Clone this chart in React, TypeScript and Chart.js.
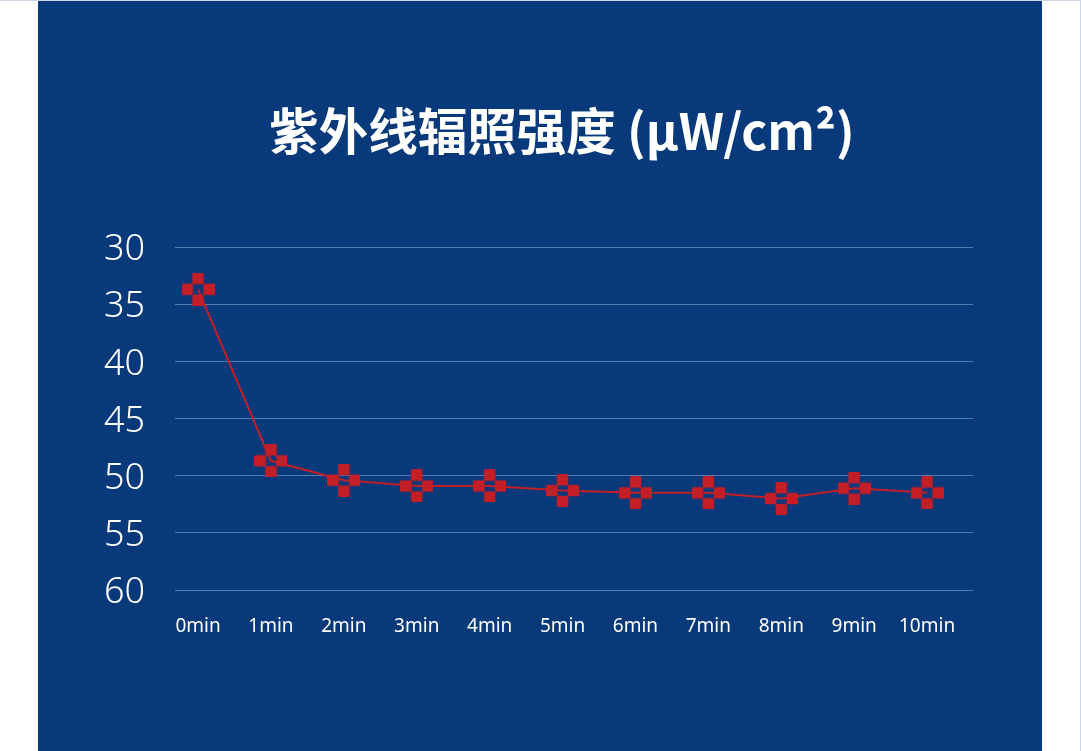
import React, { useEffect, useRef } from "react";
import { Chart, registerables } from "chart.js";

Chart.register(...registerables);

const TITLE = "紫外线辐照强度 (μW/cm²)";
const categories = ["0min", "1min", "2min", "3min", "4min", "5min", "6min", "7min", "8min", "9min", "10min"];
const intensity = [33.7, 48.7, 50.4, 50.9, 50.9, 51.3, 51.5, 51.5, 52.0, 51.1, 51.5];
const yTicks = [30, 35, 40, 45, 50, 55, 60];

const RED = "#C41E27";
const PANEL = "#08397A";

function makeMarker(): HTMLCanvasElement {
  const c = document.createElement("canvas");
  const size = 33;
  c.width = size;
  c.height = size;
  const ctx = c.getContext("2d")!;
  const cell = size / 3;
  ctx.fillStyle = RED;
  const cells = [
    [1, 0],
    [0, 1],
    [2, 1],
    [1, 2],
  ];
  for (const [cx, cy] of cells) {
    const x = cx * cell - 0.3;
    const y = cy * cell - 0.3;
    ctx.beginPath();
    (ctx as any).roundRect(Math.max(0, x), Math.max(0, y), cell + 0.6, cell + 0.6, 1.6);
    ctx.fill();
  }
  return c;
}

export default function App() {
  const ref = useRef<HTMLCanvasElement | null>(null);

  useEffect(() => {
    if (!ref.current) return;
    const marker = makeMarker();
    const chart = new Chart(ref.current, {
      type: "line",
      data: {
        datasets: [
          {
            data: intensity.map((v, i) => ({ x: i, y: v })),
            borderColor: RED,
            backgroundColor: RED,
            borderWidth: 2,
            tension: 0,
            pointStyle: marker as any,
            pointRadius: 16,
          },
        ],
      },
      options: {
        responsive: false,
        animation: false,
        layout: { padding: { left: 0, right: 69, top: 246, bottom: 0 } },
        plugins: {
          legend: { display: false },
          tooltip: { enabled: false },
          title: { display: false },
        },
        scales: {
          x: {
            type: "linear",
            min: -0.316,
            max: 10.63,
            grid: { display: false, drawTicks: false },
            border: { display: false },
            afterBuildTicks: (scale: any) => {
              scale.ticks = categories.map((_, i) => ({ value: i }));
            },
            afterFit: (scale: any) => {
              scale.height = 161;
            },
            ticks: {
              color: "#ffffff",
              padding: 25,
              autoSkip: false,
              maxRotation: 0,
              font: { family: "'Noto Sans', sans-serif", size: 19 },
              callback: (v: any) => categories[Math.round(Number(v))] ?? "",
            },
          },
          y: {
            reverse: true,
            min: 30,
            max: 60,
            afterBuildTicks: (scale: any) => {
              scale.ticks = yTicks.map((v) => ({ value: v }));
            },
            afterFit: (scale: any) => {
              scale.width = 137;
            },
            grid: { color: "rgba(150,180,220,0.55)", lineWidth: 1, drawTicks: false },
            border: { display: false },
            ticks: {
              color: "#ffffff",
              padding: 30,
              labelOffset: 3,
              autoSkip: false,
              font: { family: "'Noto Sans', sans-serif", size: 36, weight: "300" },
              callback: (v: any) => String(v),
            },
          },
        },
      },
    });
    return () => chart.destroy();
  }, []);

  return (
    <div
      style={{
        position: "fixed",
        left: 0,
        top: 0,
        width: 1081,
        height: 751,
        background: "#ffffff",
        borderTop: "1px solid #cdd8e6",
        borderRight: "1px solid #cdd8e6",
        boxSizing: "border-box",
      }}
    >
      <div style={{ position: "absolute", left: 38, top: 0, width: 1004, height: 750, background: PANEL }}>
        <canvas ref={ref} width={1004} height={750} style={{ display: "block", width: 1004, height: 750 }} />
        <div
          style={{
            position: "absolute",
            left: 24,
            top: 98,
            width: 1000,
            height: 60,
            lineHeight: "60px",
            textAlign: "center",
            color: "#ffffff",
            fontFamily: "'Noto Sans CJK SC', sans-serif",
            fontWeight: 700,
            fontSize: 49.5,
            whiteSpace: "nowrap",
          }}
        >
          {TITLE}
        </div>
      </div>
    </div>
  );
}
